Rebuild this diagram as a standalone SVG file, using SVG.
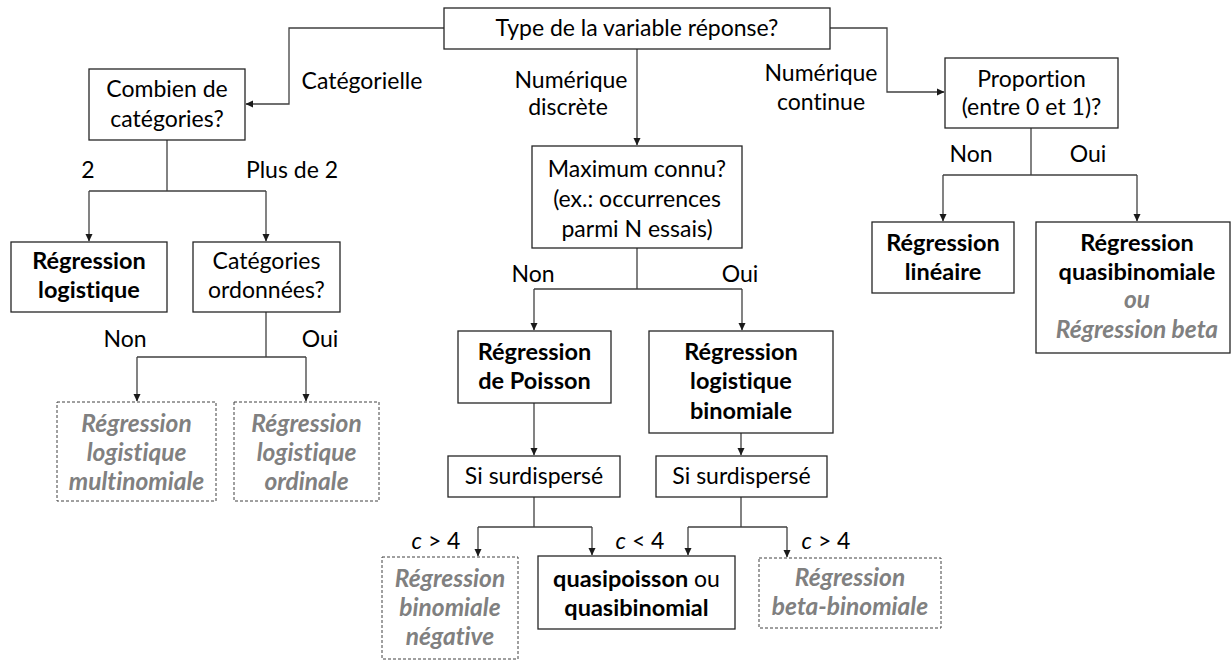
<svg xmlns="http://www.w3.org/2000/svg" width="1232" height="660" viewBox="0 0 1232 660">
<defs>
<marker id="ah" markerWidth="8" markerHeight="8" refX="7" refY="4" orient="auto" markerUnits="userSpaceOnUse">
<path d="M0,0.5 L7.5,4 L0,7.5 Z" fill="#1a1a1a"/>
</marker>
<style>
.box{fill:#fff;stroke:#262626;stroke-width:1.3}
.dbox{fill:#fff;stroke:#404040;stroke-width:1;stroke-dasharray:3,2}
.t{font-family:Lato,"Liberation Sans",sans-serif;font-size:23px;fill:#000;text-anchor:middle;font-variant-ligatures:none}
.b{font-weight:bold;font-size:23.5px}
.g{font-weight:bold;font-style:italic;fill:#808080;font-size:24.5px}
.lbl{font-family:Lato,"Liberation Sans",sans-serif;font-size:23px;fill:#000;text-anchor:middle;font-variant-ligatures:none}
.c{fill:none;stroke:#404040;stroke-width:1.3}
.ca{fill:none;stroke:#404040;stroke-width:1.3;marker-end:url(#ah)}
</style>
</defs>
<rect width="1232" height="660" fill="#fff"/>

<g id="connectors">
<path class="ca" d="M444,28 H289 V104 H246"/>
<path class="ca" d="M637,49 V145"/>
<path class="ca" d="M830,28 H887 V92 H944"/>
<path class="c" d="M167,140 V191 M89,191 H266"/>
<path class="ca" d="M89,191 V241"/>
<path class="ca" d="M266,191 V241"/>
<path class="c" d="M266,312 V357 M137,357 H306"/>
<path class="ca" d="M137,357 V401"/>
<path class="ca" d="M306,357 V401"/>
<path class="c" d="M637,248 V289 M534,289 H742"/>
<path class="ca" d="M534,289 V330"/>
<path class="ca" d="M742,289 V330"/>
<path class="ca" d="M534,403 V455"/>
<path class="ca" d="M741,433 V455"/>
<path class="c" d="M534,497 V527 M478,527 H592"/>
<path class="ca" d="M478,527 V556"/>
<path class="ca" d="M592,527 V555"/>
<path class="c" d="M741,497 V527 M688,527 H787"/>
<path class="ca" d="M688,527 V555"/>
<path class="ca" d="M787,527 V557"/>
<path class="c" d="M1031,128 V175 M943,175 H1137"/>
<path class="ca" d="M943,175 V221"/>
<path class="ca" d="M1137,175 V221"/>
</g>

<g id="labels">
<text class="lbl" x="362" y="89">Catégorielle</text>
<text class="lbl" x="88" y="178">2</text>
<text class="lbl" x="292" y="178">Plus de 2</text>
<text class="lbl" x="571" y="88">Numérique</text>
<text class="lbl" x="568" y="115">discrète</text>
<text class="lbl" x="821" y="81">Numérique</text>
<text class="lbl" x="821" y="110">continue</text>
<text class="lbl" x="125" y="347">Non</text>
<text class="lbl" x="320" y="347">Oui</text>
<text class="lbl" x="533" y="282">Non</text>
<text class="lbl" x="740" y="282">Oui</text>
<text class="lbl" x="971" y="162">Non</text>
<text class="lbl" x="1088" y="162">Oui</text>
<text class="lbl" x="436" y="549"><tspan font-style="italic">c</tspan> &gt; 4</text>
<text class="lbl" x="640" y="549"><tspan font-style="italic">c</tspan> &lt; 4</text>
<text class="lbl" x="826" y="549"><tspan font-style="italic">c</tspan> &gt; 4</text>
</g>

<g id="n-type">
<rect class="box" x="444" y="8" width="386" height="41"/>
<text class="t" x="637" y="36">Type de la variable réponse?</text>
</g>
<g id="n-combien">
<rect class="box" x="89" y="69" width="156" height="71"/>
<text class="t" x="167" y="97">Combien de</text>
<text class="t" x="167" y="127">catégories?</text>
</g>
<g id="n-reglog">
<rect class="box" x="11" y="242" width="156" height="70"/>
<text class="t b" x="89" y="269">Régression</text>
<text class="t b" x="89" y="298">logistique</text>
</g>
<g id="n-ordonnees">
<rect class="box" x="193" y="242" width="147" height="70"/>
<text class="t" x="266.5" y="269">Catégories</text>
<text class="t" x="266.5" y="298">ordonnées?</text>
</g>
<g id="n-multinomiale">
<rect class="dbox" x="57" y="402" width="159" height="99"/>
<text class="t g" x="136.5" y="432">Régression</text>
<text class="t g" x="136.5" y="461">logistique</text>
<text class="t g" x="136.5" y="490">multinomiale</text>
</g>
<g id="n-ordinale">
<rect class="dbox" x="234" y="402" width="145" height="99"/>
<text class="t g" x="306.5" y="432">Régression</text>
<text class="t g" x="306.5" y="461">logistique</text>
<text class="t g" x="306.5" y="490">ordinale</text>
</g>
<g id="n-maximum">
<rect class="box" x="532" y="146" width="210" height="102"/>
<text class="t" x="637" y="177">Maximum connu?</text>
<text class="t" x="637" y="207">(ex.: occurrences</text>
<text class="t" x="637" y="237">parmi N essais)</text>
</g>
<g id="n-poisson">
<rect class="box" x="458" y="331" width="153" height="72"/>
<text class="t b" x="534.5" y="360">Régression</text>
<text class="t b" x="534.5" y="389">de Poisson</text>
</g>
<g id="n-binomiale">
<rect class="box" x="649" y="331" width="184" height="102"/>
<text class="t b" x="741" y="360">Régression</text>
<text class="t b" x="741" y="389">logistique</text>
<text class="t b" x="741" y="419">binomiale</text>
</g>
<g id="n-surdisp1">
<rect class="box" x="448" y="456" width="172" height="41"/>
<text class="t" x="534" y="484">Si surdispersé</text>
</g>
<g id="n-surdisp2">
<rect class="box" x="656" y="456" width="171" height="41"/>
<text class="t" x="741.5" y="484">Si surdispersé</text>
</g>
<g id="n-negative">
<rect class="dbox" x="382" y="557" width="136" height="102"/>
<text class="t g" x="450" y="587">Régression</text>
<text class="t g" x="450" y="616">binomiale</text>
<text class="t g" x="450" y="645">négative</text>
</g>
<g id="n-quasi">
<rect class="box" x="538" y="556" width="197" height="73"/>
<text class="t" x="636.5" y="587"><tspan font-weight="bold" font-size="23.5px">quasipoisson</tspan> ou</text>
<text class="t b" x="636.5" y="616">quasibinomial</text>
</g>
<g id="n-betabin">
<rect class="dbox" x="759" y="558" width="182" height="70"/>
<text class="t g" x="850" y="586">Régression</text>
<text class="t g" x="850" y="615">beta-binomiale</text>
</g>
<g id="n-proportion">
<rect class="box" x="945" y="58" width="173" height="70"/>
<text class="t" x="1031.5" y="87">Proportion</text>
<text class="t" x="1031.5" y="115">(entre 0 et 1)?</text>
</g>
<g id="n-lineaire">
<rect class="box" x="872" y="222" width="142" height="71"/>
<text class="t b" x="943" y="251">Régression</text>
<text class="t b" x="943" y="280">linéaire</text>
</g>
<g id="n-quasibinomiale">
<rect class="box" x="1036" y="222" width="194" height="131"/>
<text class="t b" x="1137" y="251">Régression</text>
<text class="t b" x="1137" y="280">quasibinomiale</text>
<text class="t g" x="1137" y="308">ou</text>
<text class="t g" x="1137" y="338">Régression beta</text>
</g>
</svg>
